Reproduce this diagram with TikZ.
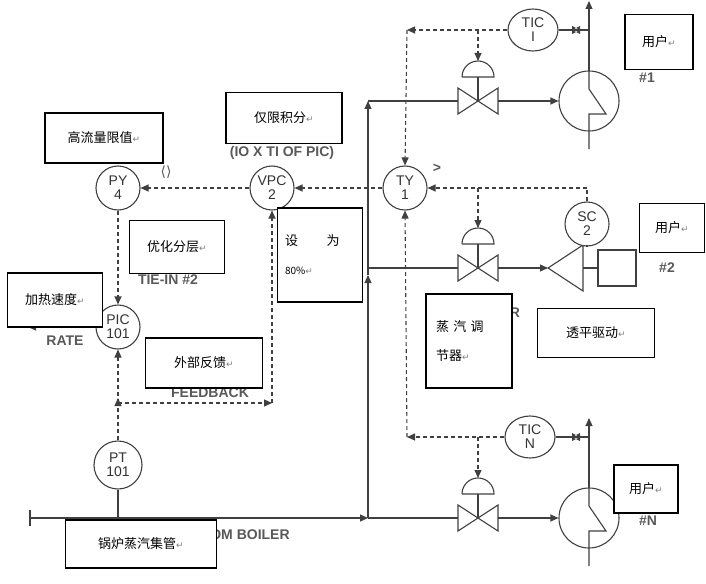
\documentclass[tikz,border=0pt]{standalone}
\usepackage{fontspec}
\setmainfont{Liberation Sans}
\newfontfamily\cjk{Noto Sans CJK SC}
\newfontfamily\sym{DejaVu Sans}
\usetikzlibrary{arrows.meta,shapes.geometric}
\newcommand{\ret}{{\sym\color{gray}\fontsize{9}{9}\selectfont ↵}}
\tikzset{
  pipe/.style={draw=black!75,line width=1.1pt},
  sig/.style={draw=black!75,line width=1.1pt,dashed,dash pattern=on 4pt off 3pt},
  tip/.style={-{Triangle[length=8pt,width=7pt]}},
  inst/.style={circle,draw=black!75,line width=1.1pt,minimum size=44pt,inner sep=0pt,
    font=\fontsize{14}{14}\selectfont,align=center,text=black!80,fill=white},
  note/.style={draw,line width=1.2pt,fill=white,font=\cjk\fontsize{13}{15}\selectfont,align=left},
  lbl/.style={font=\bfseries\fontsize{14}{14}\selectfont,text=black!65},
}
\begin{document}
\begin{tikzpicture}[x=1pt,y=-1pt]
  \useasboundingbox (0,0) rectangle (706,583);
  % header and riser
  \draw[pipe] (30,510) -- (30,526);
  \coordinate (hdr) at (30,518);
  \coordinate (rb) at (368,518);
  \coordinate (r1) at (368,101);
  \coordinate (r2) at (368,268);
  \draw[pipe,tip] (hdr) -- (rb);
  \draw[pipe,tip] (rb) -- (368,275);
  \draw[pipe,tip] (368,275) -- (r1);
  % valves
  \foreach \n/\y in {1/101,2/268,3/518}{
    \coordinate (v\n) at (478,\y);
    \draw[pipe] (458,\y-13) -- (498,\y+13) -- (498,\y-13) -- (458,\y+13) -- cycle;
    \draw[pipe] (478,\y) -- (478,\y-24);
    \draw[pipe] (462,\y-24) -- (494,\y-24) arc (0:-180:16);
    \coordinate (a\n) at (478,\y-40);
  }
  \draw[pipe] (r1) -- (458,101);
  \draw[pipe] (r2) -- (458,268);
  \draw[pipe] (368,518) -- (458,518);
  % exchangers
  \foreach \n/\y in {1/101,3/518}{
    \node[circle,draw=black!75,line width=1.1pt,minimum size=60pt,inner sep=0pt] (hx\n) at (589,\y) {};
    \draw[pipe,tip] (498,\y) -- (hx\n.west);
    \draw[pipe] (589,\y+48) -- (589,\y+13) -- (606,\y+13) -- (589,\y-12) -- (589,\y-30);
    \draw[pipe,tip] (589,\y-30) -- (589,\y-100);
  }
  % turbine
  \draw[pipe] (548,268) -- (583,245) -- (583,291) -- cycle;
  \draw[pipe,tip] (498,268) -- (548,268);
  \draw[pipe] (583,268) -- (598,268);
  \draw[pipe] (598,250) rectangle (636,286);
  % instruments
  \node[inst,minimum size=42pt,ellipse,minimum width=50pt] (ticI) at (533,30) {TIC\\I};
  \node[inst,minimum size=42pt,ellipse,minimum width=50pt] (ticN) at (530,437) {TIC\\N};
  \node[inst] (ty) at (405,188) {TY\\1};
  \node[inst] (vpc) at (272,188) {VPC\\2};
  \node[inst] (py) at (118,188) {PY\\4};
  \node[inst] (sc) at (587,224) {SC\\2};
  \node[inst] (pic) at (118,327) {PIC\\101};
  \node[inst,minimum size=48pt] (pt) at (118,465) {PT\\101};
  \draw[pipe] (sc.south) -- (587,245);
  \draw[pipe] (pt.south) -- (118,518);
  % TIC taps
  \draw[pipe] (ticI.east) -- (589,30);
  \draw[pipe] (ticN.east) -- (589,437);
  \fill[black!75] (572,26) -- (580,30) -- (572,34) -- cycle (580,26) -- (572,30) -- (580,34) -- cycle;
  \fill[black!75] (572,433) -- (580,437) -- (572,441) -- cycle (580,433) -- (572,437) -- (580,441) -- cycle;
  % signals
  \coordinate (k1) at (407,30);
  \coordinate (k3) at (407,437);
  \coordinate (s1) at (587,188);
  \coordinate (fb) at (118,403);
  \coordinate (fb2) at (272,403);
  \coordinate (rate) at (28,327);
  \draw[sig,tip] (ticI.west) -- (k1);
  \draw[sig,tip] (k1) -- (ty.north);
  \draw[sig,tip] (478,30) -- (a1);
  \draw[sig] (sc.north) -- (s1);
  \draw[sig,tip] (s1) -- (ty.east);
  \draw[sig,tip] (478,188) -- (a2);
  \draw[sig,tip] (ticN.west) -- (k3);
  \draw[sig,tip] (k3) -- (ty.south);
  \draw[sig,tip] (478,437) -- (a3);
  \draw[sig,tip] (ty.west) -- (vpc.east);
  \draw[sig,tip] (vpc.west) -- (py.east);
  \draw[sig,tip] (py.south) -- (pic.north);
  \draw[sig,tip] (pic.west) -- (rate);
  \draw[sig,tip] (pt.north) -- (118,398);
  \draw[sig,tip] (fb) -- (pic.south);
  \draw[sig,tip] (fb) -- (fb2);
  \draw[sig,tip] (fb2) -- (vpc.south);
  % labels
  \node[lbl] (gt) at (437,168) {>};
  \node[lbl] (ioti) at (282,153) {(IO X TI OF PIC)};
  \node[lbl,font=\sym\fontsize{14}{14}\selectfont] (brk) at (166,172) {⟨⟩};
  \node[lbl] (tie) at (168,280) {TIE-IN \#2};
  \node[lbl] (rt) at (65,341) {RATE};
  \node[lbl] (fbk) at (210,393) {FEEDBACK};
  \node[lbl] (boil) at (250,535) {OM BOILER};
  \node[lbl] (u1n) at (647,78) {\#1};
  \node[lbl] (u2n) at (667,268) {\#2};
  \node[lbl] (u3n) at (648,521) {\#N};
  \node[lbl] (rr) at (515,313) {R};
  % boxes
  \node[note,minimum width=118pt,minimum height=50pt] (b1) at (104,138) {高流量限值\ret};
  \node[note,minimum width=116pt,minimum height=51pt] (b2) at (284,118) {仅限积分\ret};
  \node[note,minimum width=95pt,minimum height=53pt] (b3) at (177,247) {优化分层\ret};
  \node[note,minimum width=85pt,minimum height=94pt,text width=70pt] (b4) at (320,255) {设\hspace{2.2em}为\\[14pt]{\fontsize{10}{10}\selectfont 80\%}\ret};
  \node[note,minimum width=95pt,minimum height=54pt] (b5) at (55,300) {加热速度\ret};
  \node[note,minimum width=117pt,minimum height=50pt] (b6) at (204,363) {外部反馈\ret};
  \node[note,minimum width=151pt,minimum height=48pt] (b7) at (141,544) {锅炉蒸汽集管\ret};
  \node[note,minimum width=68pt,minimum height=55pt] (u1) at (659,42) {用户\ret};
  \node[note,minimum width=65pt,minimum height=49pt] (u2) at (672,228) {用户\ret};
  \node[note,minimum width=86pt,minimum height=94pt,text width=66pt] (b8) at (469,341) {蒸 汽 调\\[14pt]节器\ret};
  \node[note,minimum width=117pt,minimum height=49pt] (b9) at (596,333) {透平驱动\ret};
  \node[note,minimum width=64pt,minimum height=48pt] (u3) at (646,489) {用户\ret};
\end{tikzpicture}
\end{document}
